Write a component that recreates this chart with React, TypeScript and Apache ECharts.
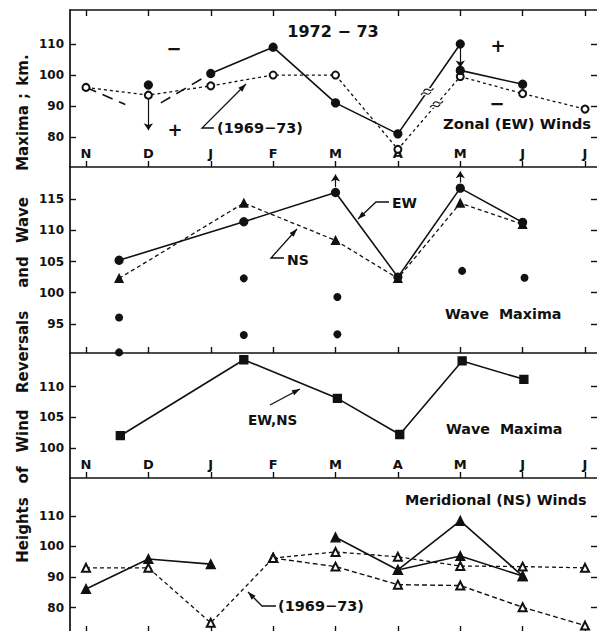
import React, { useEffect, useRef } from 'react';
import * as echarts from 'echarts';

const W = 597;
const H = 631;
const FONT = 'DejaVu Sans';
const INK = '#111';

const monthLabels = ['N', 'D', 'J', 'F', 'M', 'A', 'M', 'J', 'J'];
const monthTicks = [0, 1, 2, 3, 4, 5, 6, 7, 8];

// Panel 1: Zonal (EW) winds
const zonalClimX = [0, 1, 2, 3, 4, 5, 6, 7, 8];
const zonalClimY = [96, 93.5, 96.5, 100, 100, 76, 99.5, 94, 89];
const zonalMainX = [2, 3, 4, 5, 6];
const zonalMainY = [100.5, 109, 91, 81, 110];
const zonalLateX = [6, 7];
const zonalLateY = [101.5, 97];
const zonalDecX = [1];
const zonalDecY = [96.8];
const zonalInterpAX = [0, 0.63];
const zonalInterpAY = [96, 90.5];
const zonalInterpBX = [1.2, 2];
const zonalInterpBY = [91, 100.5];

// Panel 2: reversal heights and wave maxima
const waveX = [0.53, 2.53, 4, 5, 6, 7];
const ewRevY = [105.2, 111.4, 116.1, 102.5, 116.8, 111.3];
const nsRevY = [102.3, 114.4, 108.4, 102.3, 114.4, 111.0];
const waveDotX = [0.53, 0.53, 2.53, 2.53, 4.03, 4.03, 6.03, 7.03];
const waveDotY = [96, 90.4, 102.3, 93.2, 99.3, 93.3, 103.5, 102.4];

// Panel 3: wave maxima EW,NS
const waveMaxX = [0.55, 2.53, 4.03, 5.03, 6.03, 7.02];
const waveMaxY = [102, 114.4, 108.1, 102.2, 114.2, 111.2];

// Panel 4: Meridional (NS) winds
const merEarlyX = [0, 1, 2];
const merEarlyY = [86.1, 95.9, 94.2];
const merLateAX = [4, 5, 6, 7];
const merLateAY = [103, 92.3, 108.4, 90.3];
const merLateBX = [5, 6, 7];
const merLateBY = [92.3, 96.9, 90.3];
const merClimX = [0, 1, 2, 3];
const merClimY = [93, 93, 75, 96.2];
const merClimUpX = [3, 4, 5, 6, 7, 8];
const merClimUpY = [96.2, 98.2, 96.6, 93.6, 93.4, 93];
const merClimLowX = [3, 4, 5, 6, 7, 8];
const merClimLowY = [96.2, 93.4, 87.5, 87.2, 80.1, 74.1];

const yRanges = [
  [70.3, 121],
  [90.3, 120.2],
  [95.1, 115.5],
  [72, 122.4],
];
const yTicks = [
  [80, 90, 100, 110],
  [95, 100, 105, 110, 115],
  [100, 105, 110],
  [80, 90, 100, 110],
];
const gridBoxes = [
  { top: 10, height: 157 },
  { top: 167, height: 186 },
  { top: 353, height: 125 },
  { top: 478, height: 154 },
];

const zip = (xs: number[], ys: number[]) => xs.map((x, i) => [x, ys[i]]);

function arrowHead(fx: number, fy: number, tx: number, ty: number, len = 8, half = 2.8) {
  const dx = tx - fx;
  const dy = ty - fy;
  const L = Math.hypot(dx, dy) || 1;
  const ux = dx / L;
  const uy = dy / L;
  const bx = tx - ux * len;
  const by = ty - uy * len;
  const px = -uy;
  const py = ux;
  return {
    type: 'polygon',
    shape: { points: [[tx, ty], [bx + px * half, by + py * half], [bx - px * half, by - py * half]] },
    style: { fill: INK },
    silent: true,
  };
}

function leader(points: number[][]) {
  const n = points.length;
  return [
    {
      type: 'polyline',
      shape: { points },
      style: { stroke: INK, lineWidth: 1.3, fill: null },
      silent: true,
    },
    arrowHead(points[n - 2][0], points[n - 2][1], points[n - 1][0], points[n - 1][1]),
  ];
}

function txt(text: string, x: number, y: number, size = 15, align = 'left', extra: any = {}) {
  return {
    type: 'text',
    x,
    y,
    silent: true,
    ...extra,
    style: {
      text,
      fontSize: size,
      fontFamily: FONT,
      fontWeight: 'bold',
      fill: INK,
      textAlign: align,
      textVerticalAlign: 'middle',
      ...(extra.style || {}),
    },
  };
}

const arrowMark = (pairs: number[][][]) => ({
  silent: true,
  symbol: ['none', 'arrow'],
  symbolSize: 7,
  label: { show: false },
  lineStyle: { color: INK, width: 1.2, type: 'solid' },
  emphasis: { disabled: true },
  data: pairs.map(([a, b]) => [{ coord: a }, { coord: b }]),
});

export default function App() {
  const ref = useRef<HTMLDivElement>(null);

  useEffect(() => {
    if (!ref.current) return;
    const chart = echarts.init(ref.current, null, { renderer: 'svg', width: W, height: H });

    const grids = gridBoxes.map((g) => ({
      left: 70,
      right: 0,
      top: g.top,
      height: g.height,
      containLabel: false,
      outerBoundsMode: 'none',
    }));

    const xAxes: any[] = gridBoxes.map((_, i) => ({
      type: 'value',
      gridIndex: i,
      min: -0.2565,
      max: 8.192,
      position: 'bottom',
      axisLine: { show: true, onZero: false, lineStyle: { color: INK, width: 1.7 } },
      axisTick: { show: true, inside: true, length: 6, customValues: monthTicks, lineStyle: { color: INK, width: 1.4 } },
      axisLabel: {
        show: i === 0 || i === 2,
        inside: true,
        margin: 7,
        customValues: monthTicks,
        formatter: (v: number) => monthLabels[Math.round(v)] || '',
        fontFamily: FONT,
        fontSize: 13,
        fontWeight: 'bold',
        color: INK,
      },
      splitLine: { show: false },
    }));
    xAxes.push({
      type: 'value',
      gridIndex: 0,
      min: -0.2565,
      max: 8.192,
      position: 'top',
      axisLine: { show: true, onZero: false, lineStyle: { color: INK, width: 1.7 } },
      axisTick: { show: true, inside: true, length: 6, customValues: monthTicks, lineStyle: { color: INK, width: 1.4 } },
      axisLabel: { show: false },
      splitLine: { show: false },
    });

    const yAxes: any[] = [];
    gridBoxes.forEach((_, i) => {
      yAxes.push({
        type: 'value',
        gridIndex: i,
        min: yRanges[i][0],
        max: yRanges[i][1],
        position: 'left',
        axisLine: { show: true, onZero: false, lineStyle: { color: INK, width: 1.7 } },
        axisTick: { show: true, inside: true, length: 6, customValues: yTicks[i], lineStyle: { color: INK, width: 1.4 } },
        axisLabel: {
          show: true,
          customValues: yTicks[i],
          margin: 6,
          fontFamily: FONT,
          fontSize: 12,
          fontWeight: 'bold',
          color: INK,
        },
        splitLine: { show: false },
      });
    });
    gridBoxes.forEach((_, i) => {
      yAxes.push({
        type: 'value',
        gridIndex: i,
        min: yRanges[i][0],
        max: yRanges[i][1],
        position: 'right',
        axisLine: { show: false, onZero: false },
        axisTick: { show: true, inside: true, length: 6, customValues: yTicks[i], lineStyle: { color: INK, width: 1.4 } },
        axisLabel: { show: false },
        splitLine: { show: false },
      });
    });

    const lineS = (name: string, g: number, data: number[][], opts: any) => ({
      name,
      type: 'line',
      xAxisIndex: g,
      yAxisIndex: g,
      data,
      symbol: opts.symbol || 'none',
      symbolSize: opts.size || 7,
      showSymbol: true,
      lineStyle: { color: INK, width: opts.width || 1.6, type: opts.dash || 'solid' },
      itemStyle: { color: INK, borderColor: INK, borderWidth: opts.border || 1.3, opacity: 1 },
      emphasis: { disabled: true },
      silent: true,
      z: opts.z || 2,
      markLine: opts.markLine,
    });

    const series: any[] = [
      // Panel 1
      lineS('Zonal 1969-73', 0, zip(zonalClimX, zonalClimY), { symbol: 'emptyCircle', size: 7, dash: [3, 3], width: 1.3 }),
      lineS('Zonal 1972-73', 0, zip(zonalMainX, zonalMainY), { symbol: 'circle', size: 8, z: 3 }),
      lineS('Zonal 1972-73 late', 0, zip(zonalLateX, zonalLateY), {
        symbol: 'circle', size: 8, z: 3,
        markLine: arrowMark([[[6, 108.8], [6, 102.4]]]),
      }),
      lineS('Zonal Dec', 0, zip(zonalDecX, zonalDecY), {
        symbol: 'circle', size: 8, z: 3,
        markLine: arrowMark([[[1, 92.2], [1, 82.2]]]),
      }),
      lineS('Zonal interp A', 0, zip(zonalInterpAX, zonalInterpAY), { dash: [11, 7], width: 1.6 }),
      lineS('Zonal interp B', 0, zip(zonalInterpBX, zonalInterpBY), { dash: [11, 7], width: 1.6 }),
      // Panel 2
      lineS('EW reversals', 1, zip(waveX, ewRevY), {
        symbol: 'circle', size: 8, z: 3,
        markLine: arrowMark([[[4, 117.0], [4, 119.0]], [[6, 117.7], [6, 119.5]]]),
      }),
      lineS('NS reversals', 1, zip(waveX, nsRevY), { symbol: 'triangle', size: 8, dash: [4, 3], width: 1.3 }),
      {
        name: 'Wave maxima dots',
        type: 'scatter',
        xAxisIndex: 1,
        yAxisIndex: 1,
        data: zip(waveDotX, waveDotY),
        symbol: 'circle',
        symbolSize: 8,
        itemStyle: { color: INK, opacity: 1 },
        emphasis: { disabled: true },
        silent: true,
      },
      // Panel 3
      lineS('Wave maxima EW,NS', 2, zip(waveMaxX, waveMaxY), { symbol: 'rect', size: 8 }),
      // Panel 4
      lineS('NS early', 3, zip(merEarlyX, merEarlyY), { symbol: 'triangle', size: 9, z: 3 }),
      lineS('NS late A', 3, zip(merLateAX, merLateAY), { symbol: 'triangle', size: 9, z: 3 }),
      lineS('NS late B', 3, zip(merLateBX, merLateBY), { symbol: 'triangle', size: 9, z: 3 }),
      lineS('NS clim', 3, zip(merClimX, merClimY), { symbol: 'emptyTriangle', size: 8, dash: [4, 3], width: 1.3 }),
      lineS('NS clim up', 3, zip(merClimUpX, merClimUpY), { symbol: 'emptyTriangle', size: 8, dash: [4, 3], width: 1.3 }),
      lineS('NS clim low', 3, zip(merClimLowX, merClimLowY), { symbol: 'emptyTriangle', size: 8, dash: [5, 3], width: 1.4 }),
    ];

    chart.setOption({
      animation: false,
      backgroundColor: '#fff',
      grid: grids,
      xAxis: xAxes,
      yAxis: yAxes,
      series,
    });

    // break marks on April -> May segments (panel 1)
    const breakMark = (a: number[], b: number[], t: number) => {
      const pa = chart.convertToPixel({ gridIndex: 0 } as any, a) as number[];
      const pb = chart.convertToPixel({ gridIndex: 0 } as any, b) as number[];
      const cx = pa[0] + (pb[0] - pa[0]) * t;
      const cy = pa[1] + (pb[1] - pa[1]) * t;
      const L = Math.hypot(pb[0] - pa[0], pb[1] - pa[1]);
      const ux = (pb[0] - pa[0]) / L;
      const uy = (pb[1] - pa[1]) / L;
      const out: any[] = [
        {
          type: 'rect',
          shape: { x: cx - 4, y: cy - 3.5, width: 8, height: 7 },
          style: { fill: '#fff' },
          silent: true,
          z: 50,
        },
      ];
      [-2.2, 2.2].forEach((s) => {
        const ox = cx + ux * s;
        const oy = cy + uy * s;
        out.push({
          type: 'bezierCurve',
          shape: {
            x1: ox - 5, y1: oy + 1.5,
            x2: ox + 5, y2: oy - 1.5,
            cpx1: ox - 1, cpy1: oy - 5,
            cpx2: ox + 1, cpy2: oy + 5,
          },
          style: { stroke: INK, lineWidth: 1.2, fill: null },
          silent: true,
          z: 51,
        });
      });
      return out;
    };

    const titleWords: [string, number][] = [
      ['Heights', 530],
      ['of', 475],
      ['Wind', 431],
      ['Reversals', 352],
      ['and', 272],
      ['Wave', 220],
      ['Maxima', 138],
      [';', 96],
      ['km.', 70],
    ];

    const graphics: any[] = [
      ...titleWords.map(([w, y]) =>
        txt(w, 23, y, 15, 'center', { rotation: Math.PI / 2 })
      ),
      // Panel 1 annotations
      txt('1972 − 73', 333, 31, 16, 'center'),
      txt('−', 174, 48, 18, 'center'),
      txt('+', 175, 129, 18, 'center'),
      txt('+', 498, 45, 18, 'center'),
      txt('−', 497, 103, 18, 'center'),
      txt('(1969−73)', 217, 128, 14.5, 'left'),
      ...leader([[214, 128], [202, 128], [246, 84]]),
      txt('Zonal (EW) Winds', 443, 123, 14.8, 'left'),
      ...breakMark([5, 81], [6, 110], 0.47),
      ...breakMark([5, 76], [6, 99.5], 0.62),
      // Panel 2 annotations
      txt('EW', 392, 203, 14, 'left'),
      ...leader([[389, 202], [376, 202], [358, 219]]),
      txt('NS', 287, 260, 14, 'left'),
      ...leader([[284, 258], [271, 258], [297, 229]]),
      txt('Wave  Maxima', 445, 314, 14.3, 'left'),
      // Panel 3 annotations
      txt('EW,NS', 248, 420, 13.5, 'left'),
      ...leader([[270, 405], [300, 389]]),
      txt('Wave  Maxima', 446, 429, 14.3, 'left'),
      // Panel 4 annotations
      txt('Meridional (NS) Winds', 405, 500, 14.4, 'left'),
      txt('(1969−73)', 278, 606, 14.5, 'left'),
      ...leader([[276, 606], [262, 606], [248, 592]]),
    ];

    chart.setOption({ graphic: graphics });

    return () => {
      chart.dispose();
    };
  }, []);

  return (
    <div
      ref={ref}
      style={{ position: 'absolute', left: 0, top: 0, width: W, height: H, background: '#fff' }}
    />
  );
}
